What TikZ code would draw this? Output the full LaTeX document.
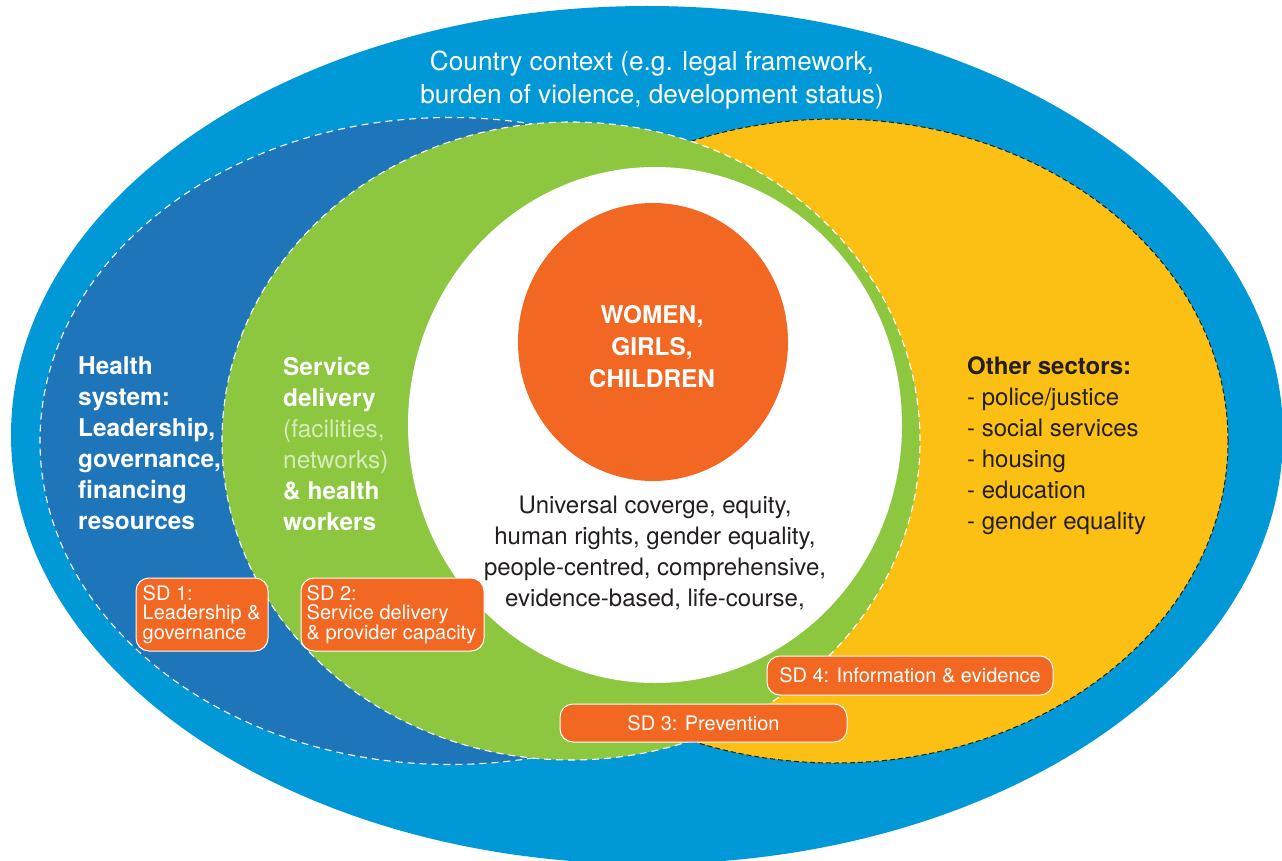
\documentclass[tikz,border=0pt]{standalone}
\usepackage{fontspec}
\setmainfont{TeX Gyre Heros}
\usetikzlibrary{positioning, shapes.geometric}

\definecolor{ctxblue}{RGB}{0,152,214}
\definecolor{hsblue}{RGB}{31,117,186}
\definecolor{sdgreen}{RGB}{141,198,63}
\definecolor{secyellow}{RGB}{252,191,19}
\definecolor{wgcorange}{RGB}{242,103,34}
\definecolor{textdark}{RGB}{35,31,32}
\definecolor{facilgreen}{RGB}{214,236,186}

\begin{document}
\begin{tikzpicture}[x=1pt, y=-1pt,
  every node/.style={inner sep=0pt, font=\fontsize{24}{31}\selectfont},
  zone/.style={ellipse, inner sep=0pt},
  sdbox/.style={draw=white, line width=1pt, fill=wgcorange, rounded corners=13pt,
    text=white, font=\fontsize{20}{19.5}\selectfont}]
\useasboundingbox (0,0) rectangle (1282,861);
\clip (0,0) rectangle (1282,861);

% nested zones
\node (context) [zone, fill=ctxblue, minimum width=1272pt, minimum height=858pt] at (647,435) {};
\node (health) [zone, fill=hsblue, draw=white, line width=1.1pt, dash pattern=on 7pt off 5pt,
  minimum width=820pt, minimum height=647pt] at (450,441) {};
\node (sectors) [zone, fill=secyellow, draw=textdark, line width=1pt, dash pattern=on 5pt off 3pt,
  minimum width=786pt, minimum height=644pt] at (835,441) {};
\node (delivery) [zone, fill=sdgreen, draw=white, line width=1.1pt, dash pattern=on 7pt off 5pt,
  minimum width=698pt, minimum height=638pt] at (571,441) {};
\node (principles) [zone, fill=white, minimum width=494pt, minimum height=516pt] at (655,425) {};
\node (women) [zone, fill=wgcorange, minimum width=270pt, minimum height=278pt] at (653,342) {};

% labels
\node (ctxtext) [anchor=north, align=center, text=white, font=\fontsize{26.2}{33}\selectfont]
  at (652,51) {Country context (e.g. legal framework,\\burden of violence, development status)};
\node (hstext) [anchor=north west, align=left, text=white, font=\bfseries\fontsize{24.4}{31}\selectfont]
  at (78,357) {Health\\system:\\Leadership,\\governance,\\financing\\resources};
\node (sdtext) [anchor=north west, align=left, text=white, font=\bfseries\fontsize{24.4}{31}\selectfont]
  at (283,357) {Service\\delivery\\{\mdseries\color{facilgreen}(facilities,}\\{\mdseries\color{facilgreen}networks)}\\\& health\\workers};
\node (womentext) [anchor=north, align=center, text=white, font=\bfseries\fontsize{24.4}{32}\selectfont]
  at (652,305) {WOMEN,\\GIRLS,\\CHILDREN};
\node (valtext) [anchor=north, align=center, text=textdark]
  at (655,496) {Universal coverge, equity,\\human rights, gender equality,\\people-centred, comprehensive,\\evidence-based, life-course,};
\node (othertext) [anchor=north west, align=left, text=textdark]
  at (967,357) {\textbf{Other sectors:}\\- police/justice\\- social services\\- housing\\- education\\- gender equality};

% strategic directions
\node (sd1) [sdbox, minimum width=132pt, minimum height=73pt] at (202,614.5) {};
\node [anchor=west, align=left, text=white, font=\fontsize{20}{19.5}\selectfont]
  at ([xshift=7pt]sd1.west) {SD 1:\\Leadership \&\\governance};
\node (sd2) [sdbox, minimum width=183pt, minimum height=73pt] at (392.5,614.5) {};
\node [anchor=west, align=left, text=white, font=\fontsize{20}{19.5}\selectfont]
  at ([xshift=6pt]sd2.west) {SD 2:\\Service delivery\\\& provider capacity};
\node (sd3) [sdbox, minimum width=287pt, minimum height=38pt] at (703.5,723) {SD 3: Prevention};
\node (sd4) [sdbox, minimum width=286pt, minimum height=39pt] at (910,675.5) {SD 4: Information \& evidence};
\end{tikzpicture}
\end{document}
